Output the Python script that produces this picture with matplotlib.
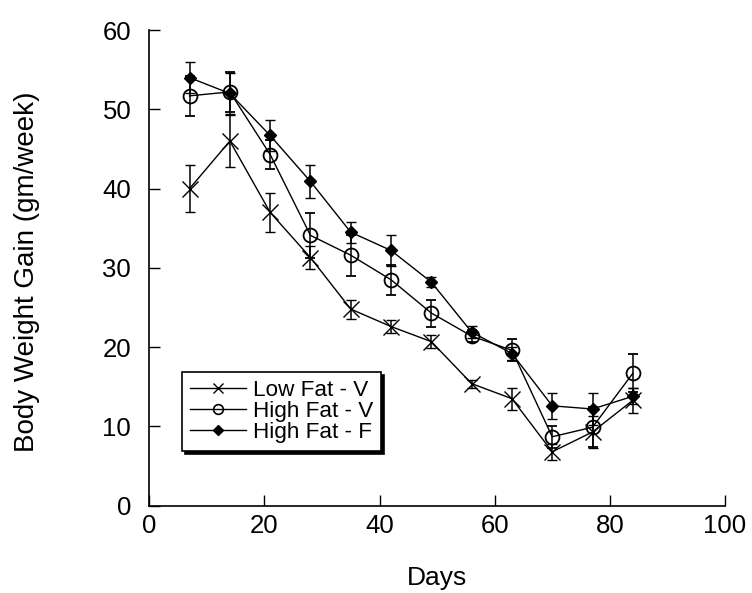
import matplotlib
matplotlib.use("Agg")
import matplotlib.pyplot as plt
from matplotlib.lines import Line2D

plt.rcParams['font.family'] = ['Liberation Sans', 'DejaVu Sans']

days = [7, 14, 21, 28, 35, 42, 49, 56, 63, 70, 77, 84]
low_fat_v = [40.0, 46.0, 37.0, 31.3, 24.8, 22.6, 20.7, 15.4, 13.5, 6.8, 9.3, 13.3]
low_fat_v_err = [3.0, 3.3, 2.5, 1.5, 1.2, 0.8, 0.8, 0.5, 1.4, 1.0, 2.0, 1.6]
high_fat_v = [51.7, 52.2, 44.3, 34.1, 31.6, 28.5, 24.3, 21.4, 19.6, 8.7, 9.9, 16.7]
high_fat_v_err = [2.5, 2.5, 1.8, 2.8, 2.6, 1.9, 1.7, 0.8, 1.4, 1.4, 2.5, 2.4]
high_fat_f = [54.0, 52.0, 46.7, 40.9, 34.5, 32.2, 28.2, 21.9, 19.2, 12.6, 12.2, 13.8]
high_fat_f_err = [2.0, 2.6, 2.0, 2.1, 1.3, 1.9, 0.6, 0.8, 0.8, 1.6, 2.0, 1.0]

labels = ["Low Fat - V", "High Fat - V", "High Fat - F"]
x_ticks = [0, 20, 40, 60, 80, 100]
y_ticks = [0, 10, 20, 30, 40, 50, 60]

fig = plt.figure(figsize=(7.52, 5.93), dpi=100)
ax = fig.add_axes([0.1985, 0.1472, 0.7655, 0.8021])

common = dict(color='black', ecolor='black', elinewidth=1.1, capsize=3.5, capthick=1.1, lw=1.0)
ax.errorbar(days, low_fat_v, yerr=low_fat_v_err, marker='x', ms=11, mew=1.0, zorder=2, **common)
ax.errorbar(days, high_fat_v, yerr=high_fat_v_err, marker='o', ms=10, mfc='none', mew=1.3, zorder=3, **common)
ax.errorbar(days, high_fat_f, yerr=high_fat_f_err, marker='D', ms=6.5, mfc='black', mew=1.0, zorder=4, **common)

ax.set_xlim(0, 100)
ax.set_ylim(0, 60)
ax.set_xticks(x_ticks)
ax.set_yticks(y_ticks)
ax.tick_params(direction='in', length=8, width=1.0, labelsize=18.5)
ax.tick_params(axis='y', pad=13)
ax.tick_params(axis='x', pad=6)
ax.spines['top'].set_visible(False)
ax.spines['right'].set_visible(False)
for s in ['left', 'bottom']:
    ax.spines[s].set_linewidth(1.2)

ax.set_xlabel("Days", fontsize=19, labelpad=20)
ax.set_ylabel("Body Weight Gain (gm/week)", fontsize=20)
ax.yaxis.set_label_coords(-0.19, 0.491)

handles = [
    Line2D([], [], color='black', lw=1.0, marker='x', ms=7, mew=1.0),
    Line2D([], [], color='black', lw=1.0, marker='o', ms=7, mfc='none', mew=1.2),
    Line2D([], [], color='black', lw=1.0, marker='D', ms=5, mfc='black'),
]
leg = ax.legend(handles, labels, loc='upper left', bbox_to_anchor=(0.057, 0.281),
                borderaxespad=0, fontsize=16.2, frameon=True, fancybox=False,
                edgecolor='black', framealpha=1, labelspacing=0.0,
                handlelength=2.5, handletextpad=0.3, borderpad=0.35,
                shadow={'color': 'black', 'alpha': 1})
leg.get_frame().set_linewidth(1.2)

fig.savefig("out.png", dpi=100)
